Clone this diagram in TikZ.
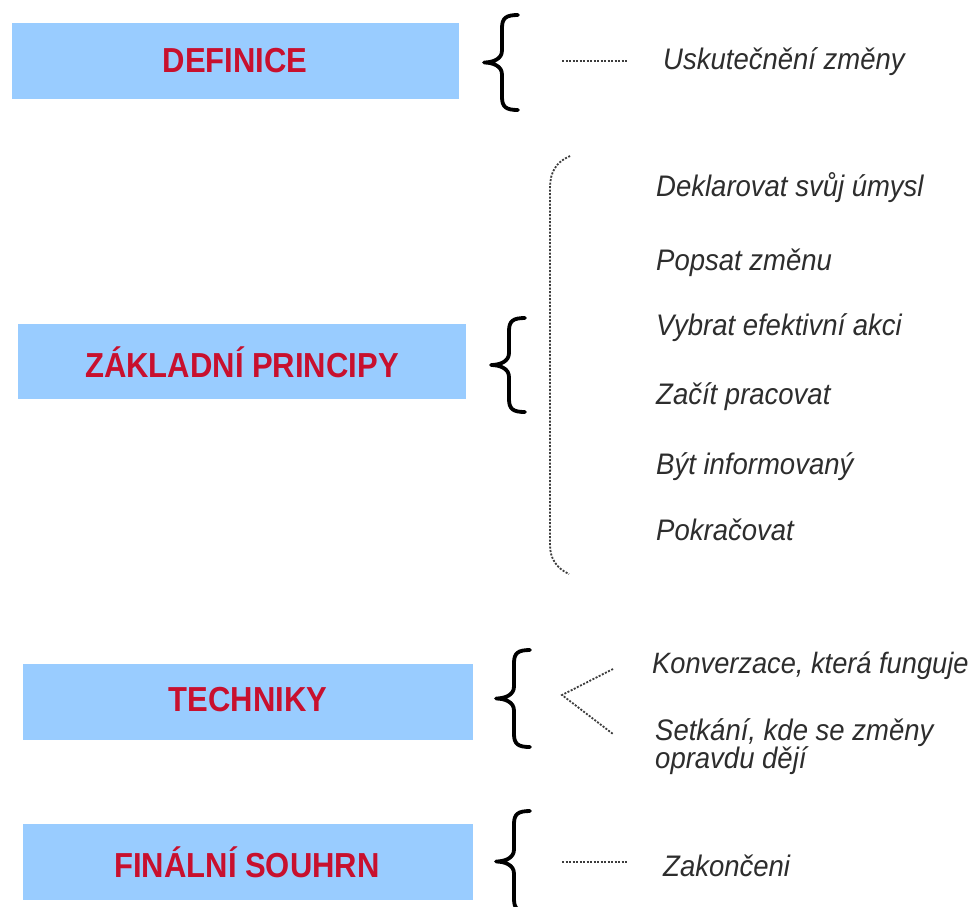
\documentclass[tikz,border=0pt]{standalone}
\usepackage{fontspec}
\usepackage{graphicx}
\setmainfont{Liberation Sans}
\usetikzlibrary{calc}

\definecolor{boxblue}{RGB}{153,204,255}
\definecolor{headred}{RGB}{200,16,46}
\definecolor{itemgray}{RGB}{45,45,45}
\definecolor{dotgray}{RGB}{60,60,60}

\newcommand{\tallhead}[1]{\scalebox{1}[1.12]{#1}}
\newcommand{\tallitem}[1]{\scalebox{1}[1.08]{#1}}

\tikzset{
  headbox/.style={fill=boxblue, draw=none},
  headtext/.style={text=headred, font=\fontsize{31}{31}\selectfont\bfseries, inner sep=0pt},
  itemtext/.style={text=itemgray, font=\fontsize{27.5}{32}\selectfont\itshape, anchor=west, inner sep=0pt, align=left},
  bracestroke/.style={draw=black, line width=3.8pt, line cap=round, line join=round},
  dotline/.style={draw=dotgray, line width=1.8pt, dash pattern=on 2pt off 1.5pt}
}

% left curly brace: #1 = x of the hooked ends, #2 = top y, #3 = bottom y
\newcommand{\curlybrace}[3]{%
  \pgfmathsetmacro{\bsp}{#1-16}%
  \pgfmathsetmacro{\btip}{#1-34}%
  \pgfmathsetmacro{\bmid}{(#2+#3)/2}%
  \draw[bracestroke]
    (#1,#2) .. controls (\bsp+4,#2) and (\bsp,#2+3) .. (\bsp,#2+13)
    -- (\bsp,\bmid-12) .. controls (\bsp,\bmid-3) and (\btip+8,\bmid) .. (\btip,\bmid)
    .. controls (\btip+8,\bmid) and (\bsp,\bmid+3) .. (\bsp,\bmid+12)
    -- (\bsp,#3-13) .. controls (\bsp,#3-3) and (\bsp+4,#3) .. (#1,#3);%
}

\begin{document}
\begin{tikzpicture}[x=1pt, y=-1pt]
  \useasboundingbox (0,0) rectangle (973,906);
  \fill[white] (0,0) rectangle (973,906);

  % heading boxes
  \fill[headbox] (12,23) rectangle (459,99);
  \fill[headbox] (18,324) rectangle (466,399);
  \fill[headbox] (23,664) rectangle (473,740);
  \fill[headbox] (23,824) rectangle (473,900);

  \node[headtext] (def) at (235,61) {\tallhead{DEFINICE}};
  \node[headtext] (zak) at (242,362) {\tallhead{ZÁKLADNÍ PRINCIPY}};
  \node[headtext] (tech) at (248,700) {\tallhead{TECHNIKY}};
  \node[headtext] (fin) at (247,862) {\tallhead{FINÁLNÍ SOUHRN}};

  % braces
  \curlybrace{518}{15}{110}
  \curlybrace{525}{318}{412}
  \curlybrace{530}{650}{747}
  \curlybrace{530}{811}{912}

  % dotted bracket enclosing the list of principles
  \draw[dotline] (570,156) .. controls (556,162) and (550,172) .. (550,188)
    -- (550,545) .. controls (550,558) and (556,568) .. (569,574);

  % right-hand texts
  \node[itemtext] (usk) at (663,62) {\tallitem{Uskutečnění změny}};
  \node[itemtext] (p1) at (656,188) {\tallitem{Deklarovat svůj úmysl}};
  \node[itemtext] (p2) at (656,263) {\tallitem{Popsat změnu}};
  \node[itemtext] (p3) at (656,328) {\tallitem{Vybrat efektivní akci}};
  \node[itemtext] (p4) at (656,397) {\tallitem{Začít pracovat}};
  \node[itemtext] (p5) at (656,467) {\tallitem{Být informovaný}};
  \node[itemtext] (p6) at (656,530) {\tallitem{Pokračovat}};
  \node[itemtext] (t1) at (652,666) {\scalebox{0.99}[1.07]{Konverzace, která funguje}};
  \node[itemtext] (t2) at (655,733) {\tallitem{Setkání, kde se změny}};
  \node[itemtext] (t3) at (655,761) {\tallitem{opravdu dějí}};
  \node[itemtext] (zk) at (663,866) {\tallitem{Zakončeni}};

  % dotted connectors
  \coordinate (d1) at (562,61);
  \coordinate (d1e) at (628,61);
  \draw[dotline] (d1) -- (d1e);

  \coordinate (apex) at (562,695);
  \coordinate (te1) at (613,669);
  \coordinate (te2) at (613,734);
  \draw[dotline] (te1) -- (apex) -- (te2);

  \coordinate (d4) at (562,862);
  \coordinate (d4e) at (627,862);
  \draw[dotline] (d4) -- (d4e);
\end{tikzpicture}
\end{document}
